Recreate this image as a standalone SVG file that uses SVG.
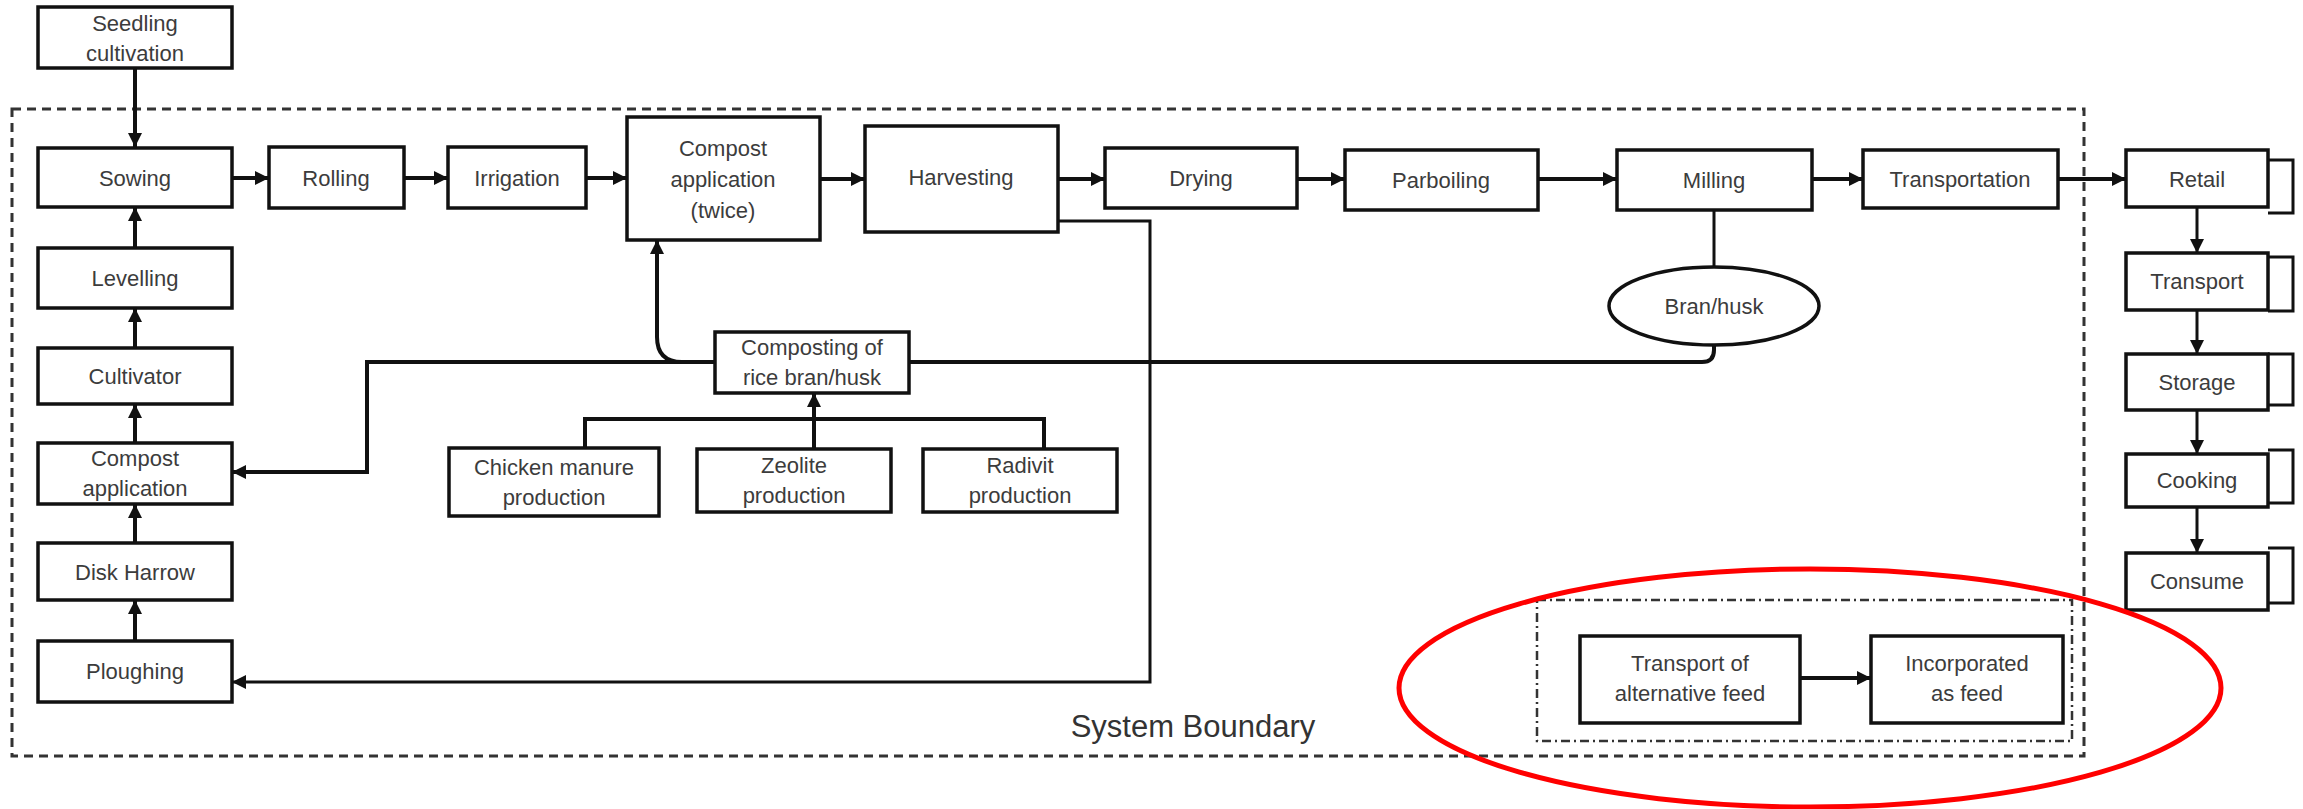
<svg xmlns="http://www.w3.org/2000/svg" width="2303" height="809" viewBox="0 0 2303 809">
<style>
.box{fill:#fff;stroke:#111;stroke-width:3.5}
.t{font-family:"Liberation Sans",Arial,sans-serif;font-size:22px;fill:#3c3c3c;text-anchor:middle}
.c{fill:none;stroke:#111;stroke-width:4}
.c2{fill:none;stroke:#111;stroke-width:3}
.bnd{fill:none;stroke:#333;stroke-width:3;stroke-dasharray:9 6}
.dd{fill:none;stroke:#333;stroke-width:2.5;stroke-dasharray:9 4 2 4}
</style>
<defs>
<marker id="ah" markerUnits="userSpaceOnUse" markerWidth="16" markerHeight="16" viewBox="0 0 16 16" refX="15" refY="8" orient="auto">
<path d="M1 1 L15 8 L1 15 Z" fill="#111"/>
</marker>
</defs>
<rect width="2303" height="809" fill="#fff"/>
<g id="boundary">
<rect class="bnd" x="12" y="109" width="2072" height="647"/>
<text x="1193" y="737" font-family="Liberation Sans,Arial,sans-serif" font-size="31" fill="#333" text-anchor="middle">System Boundary</text>
</g>
<g id="alt-boundary">
<rect class="dd" x="1537" y="600" width="535" height="141"/>
</g>
<g id="connectors">
<path class="c" d="M135 68 L135 147" marker-end="url(#ah)"/>
<path class="c" d="M232 178 L269 178" marker-end="url(#ah)"/>
<path class="c" d="M404 178 L448 178" marker-end="url(#ah)"/>
<path class="c" d="M586 178 L627 178" marker-end="url(#ah)"/>
<path class="c" d="M820 179 L865 179" marker-end="url(#ah)"/>
<path class="c" d="M1058 179 L1105 179" marker-end="url(#ah)"/>
<path class="c" d="M1297 179 L1345 179" marker-end="url(#ah)"/>
<path class="c" d="M1538 179 L1617 179" marker-end="url(#ah)"/>
<path class="c" d="M1812 179 L1863 179" marker-end="url(#ah)"/>
<path class="c" d="M2058 179 L2126 179" marker-end="url(#ah)"/>
<path class="c2" d="M2197 207 L2197 253" marker-end="url(#ah)"/>
<path class="c2" d="M2197 310 L2197 354" marker-end="url(#ah)"/>
<path class="c2" d="M2197 410 L2197 454" marker-end="url(#ah)"/>
<path class="c2" d="M2197 507 L2197 553" marker-end="url(#ah)"/>
<path class="c2" d="M2268 160 L2293 160 L2293 213 L2268 213"/>
<path class="c2" d="M2268 257 L2293 257 L2293 311 L2268 311"/>
<path class="c2" d="M2268 354 L2293 354 L2293 405 L2268 405"/>
<path class="c2" d="M2268 450 L2293 450 L2293 503 L2268 503"/>
<path class="c2" d="M2268 548 L2293 548 L2293 603 L2268 603"/>
<path class="c" d="M135 248 L135 207" marker-end="url(#ah)"/>
<path class="c" d="M135 348 L135 308" marker-end="url(#ah)"/>
<path class="c" d="M135 443 L135 404" marker-end="url(#ah)"/>
<path class="c" d="M135 543 L135 504" marker-end="url(#ah)"/>
<path class="c" d="M135 641 L135 600" marker-end="url(#ah)"/>
<path class="c2" d="M1714 210 L1714 267"/>
<path class="c" d="M1714 345 L1714 350 Q1714 362 1702 362 L909 362"/>
<path class="c" d="M715 362 L367 362 L367 472 L232 472" marker-end="url(#ah)"/>
<path class="c" d="M715 362 L682 362 Q657 362 657 337 L657 240" marker-end="url(#ah)"/>
<path class="c2" d="M1058 221 L1150 221 L1150 682 L232 682" marker-end="url(#ah)"/>
<path class="c" d="M585 448 L585 419 L1044 419 L1044 449"/>
<path class="c" d="M814 449 L814 393" marker-end="url(#ah)"/>
<path class="c" d="M1800 678 L1871 678" marker-end="url(#ah)"/>
</g>
<g id="seedling"><rect class="box" x="38" y="7" width="194" height="61"/><text class="t" x="135" y="31">Seedling</text><text class="t" x="135" y="61">cultivation</text></g>
<g id="sowing"><rect class="box" x="38" y="148" width="194" height="59"/><text class="t" x="135" y="186">Sowing</text></g>
<g id="rolling"><rect class="box" x="269" y="147" width="135" height="61"/><text class="t" x="336" y="186">Rolling</text></g>
<g id="irrigation"><rect class="box" x="448" y="147" width="138" height="61"/><text class="t" x="517" y="186">Irrigation</text></g>
<g id="compost-twice"><rect class="box" x="627" y="117" width="193" height="123"/><text class="t" x="723" y="156">Compost</text><text class="t" x="723" y="187">application</text><text class="t" x="723" y="218">(twice)</text></g>
<g id="harvesting"><rect class="box" x="865" y="126" width="193" height="106"/><text class="t" x="961" y="185">Harvesting</text></g>
<g id="drying"><rect class="box" x="1105" y="148" width="192" height="60"/><text class="t" x="1201" y="186">Drying</text></g>
<g id="parboiling"><rect class="box" x="1345" y="150" width="193" height="60"/><text class="t" x="1441" y="188">Parboiling</text></g>
<g id="milling"><rect class="box" x="1617" y="150" width="195" height="60"/><text class="t" x="1714" y="188">Milling</text></g>
<g id="transportation"><rect class="box" x="1863" y="150" width="195" height="58"/><text class="t" x="1960" y="187">Transportation</text></g>
<g id="retail"><rect class="box" x="2126" y="150" width="142" height="57"/><text class="t" x="2197" y="187">Retail</text></g>
<g id="transport"><rect class="box" x="2126" y="253" width="142" height="57"/><text class="t" x="2197" y="289">Transport</text></g>
<g id="storage"><rect class="box" x="2126" y="354" width="142" height="56"/><text class="t" x="2197" y="390">Storage</text></g>
<g id="cooking"><rect class="box" x="2126" y="454" width="142" height="53"/><text class="t" x="2197" y="488">Cooking</text></g>
<g id="consume"><rect class="box" x="2126" y="553" width="142" height="57"/><text class="t" x="2197" y="589">Consume</text></g>
<g id="levelling"><rect class="box" x="38" y="248" width="194" height="60"/><text class="t" x="135" y="286">Levelling</text></g>
<g id="cultivator"><rect class="box" x="38" y="348" width="194" height="56"/><text class="t" x="135" y="384">Cultivator</text></g>
<g id="compost-app"><rect class="box" x="38" y="443" width="194" height="61"/><text class="t" x="135" y="466">Compost</text><text class="t" x="135" y="496">application</text></g>
<g id="disk-harrow"><rect class="box" x="38" y="543" width="194" height="57"/><text class="t" x="135" y="580">Disk Harrow</text></g>
<g id="ploughing"><rect class="box" x="38" y="641" width="194" height="61"/><text class="t" x="135" y="679">Ploughing</text></g>
<g id="bran-husk"><ellipse class="box" cx="1714" cy="306" rx="105" ry="39"/><text class="t" x="1714" y="314">Bran/husk</text></g>
<g id="composting"><rect class="box" x="715" y="332" width="194" height="61"/><text class="t" x="812" y="355">Composting of</text><text class="t" x="812" y="385">rice bran/husk</text></g>
<g id="chicken"><rect class="box" x="449" y="448" width="210" height="68"/><text class="t" x="554" y="475">Chicken manure</text><text class="t" x="554" y="505">production</text></g>
<g id="zeolite"><rect class="box" x="697" y="449" width="194" height="63"/><text class="t" x="794" y="473">Zeolite</text><text class="t" x="794" y="503">production</text></g>
<g id="radivit"><rect class="box" x="923" y="449" width="194" height="63"/><text class="t" x="1020" y="473">Radivit</text><text class="t" x="1020" y="503">production</text></g>
<g id="transport-alt"><rect class="box" x="1580" y="636" width="220" height="87"/><text class="t" x="1690" y="671">Transport of</text><text class="t" x="1690" y="701">alternative feed</text></g>
<g id="incorporated"><rect class="box" x="1871" y="636" width="192" height="87"/><text class="t" x="1967" y="671">Incorporated</text><text class="t" x="1967" y="701">as feed</text></g>
<g id="highlight"><ellipse cx="1810" cy="688" rx="411" ry="119" fill="none" stroke="#f00" stroke-width="5"/></g>
</svg>
